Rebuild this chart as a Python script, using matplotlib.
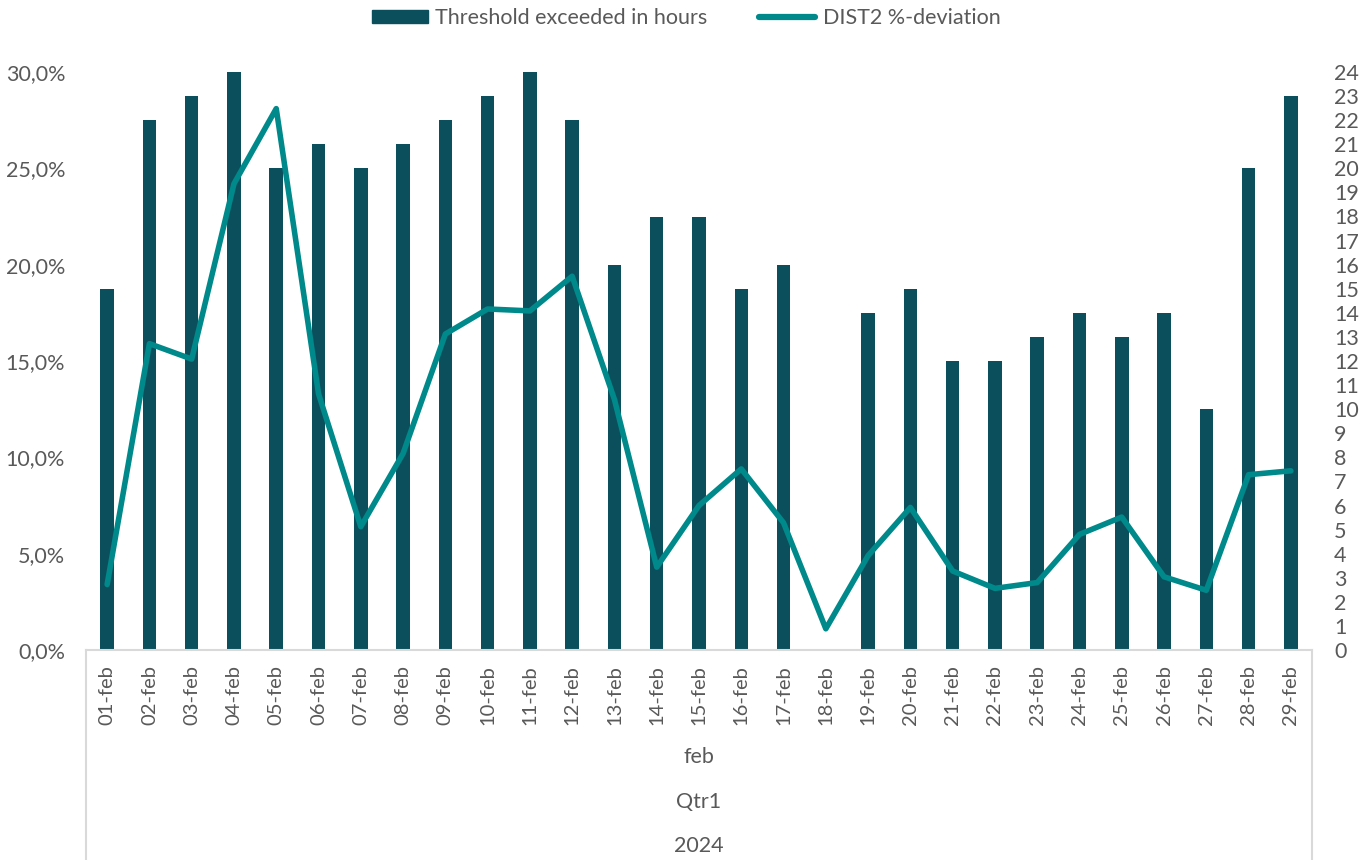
import matplotlib
matplotlib.use("Agg")
import matplotlib.pyplot as plt
from matplotlib.ticker import FuncFormatter
from matplotlib.lines import Line2D
from matplotlib.patches import Patch

plt.rcParams['font.family'] = ['Lato', 'DejaVu Sans']

# -----------------------
# data
# -----------------------
days = ["%02d-feb" % d for d in range(1, 30)]
hours_exceeded = [15, 22, 23, 24, 20, 21, 20, 21, 22, 23, 24, 22, 16, 18, 18,
                  15, 16, 0, 14, 15, 12, 12, 13, 14, 13, 14, 10, 20, 23]
dist2_dev = [3.4, 15.9, 15.1, 24.2, 28.1, 13.3, 6.4, 10.2, 16.4, 17.7, 17.6, 19.4,
             13.0, 4.3, 7.5, 9.4, 6.6, 1.1, 4.9, 7.4, 4.1, 3.2, 3.5, 6.0, 6.9,
             3.8, 3.1, 9.1, 9.3]
group_labels = ["feb", "Qtr1", "2024"]

bar_color = "#0B4F5C"
line_color = "#00898A"
grid_color = "#D9D9D9"
text_color = "#595959"
fs = 15.5

W, H = 1372, 860
fig = plt.figure(figsize=(W / 100, H / 100), dpi=100)
left, right, top, bottom = 86, 1312, 72, 650
ax = fig.add_axes([left / W, 1 - bottom / H, (right - left) / W, (bottom - top) / H])
ax2 = ax.twinx()

x = list(range(len(days)))

# -----------------------
# bars (right axis, hours)
# -----------------------
ax.bar(x, hours_exceeded, width=0.32, color=bar_color, zorder=2)
ax.set_xlim(-0.5, len(days) - 0.5)
ax.set_ylim(0, 24)
ax.set_yticks(range(0, 25))
ax.set_yticks(range(0, 25, 4), minor=True)
ax.yaxis.set_ticks_position("right")
ax.yaxis.set_label_position("right")
ax.grid(which="minor", axis="y", color=grid_color, linewidth=1.5)
ax.set_axisbelow(True)
ax.tick_params(axis="y", which="both", length=0, pad=16, labelsize=fs, labelcolor=text_color,
               labelleft=False, labelright=True)
ax.tick_params(axis="x", length=0, pad=11, labelsize=14.5, labelcolor=text_color)
ax.set_xticks(x)
ax.set_xticklabels(days, rotation=90)
for s in ["top", "left", "right"]:
    ax.spines[s].set_visible(False)
ax.spines["bottom"].set_color(grid_color)
ax.spines["bottom"].set_linewidth(1.5)

# -----------------------
# line (left axis, %)
# -----------------------
ax2.plot(x, dist2_dev, color=line_color, linewidth=4, solid_joinstyle="round",
         solid_capstyle="round", zorder=3)
ax2.set_ylim(0, 30)
ax2.set_yticks(range(0, 31, 5))
ax2.yaxis.set_ticks_position("left")
ax2.yaxis.set_major_formatter(FuncFormatter(lambda v, p: ("%.1f%%" % v).replace(".", ",")))
ax2.tick_params(axis="y", length=0, pad=15, labelsize=fs, labelcolor=text_color,
                labelleft=True, labelright=False)
for s in ax2.spines.values():
    s.set_visible(False)

# multi-level category labels
cx = (left + right) / 2 / W
for lab, yy in zip(group_labels, [757, 802, 846]):
    fig.text(cx, 1 - yy / H, lab, ha="center", va="center", fontsize=fs, color=text_color)
for xx in [left, right]:
    fig.add_artist(Line2D([xx / W, xx / W], [1 - bottom / H, 0], color=grid_color, linewidth=1.5))

# legend
handles = [Patch(color=bar_color), Line2D([0], [0], color=line_color, linewidth=4.5, solid_capstyle="round")]
fig.legend(handles, ["Threshold exceeded in hours", "DIST2 %-deviation"], loc="center",
           bbox_to_anchor=(0.5, 1 - 18 / H), ncol=2, frameon=False, fontsize=fs,
           labelcolor=text_color, handlelength=2.6, handleheight=0.6, handletextpad=0.35,
           columnspacing=2.4)

fig.savefig("out.png", dpi=100)
